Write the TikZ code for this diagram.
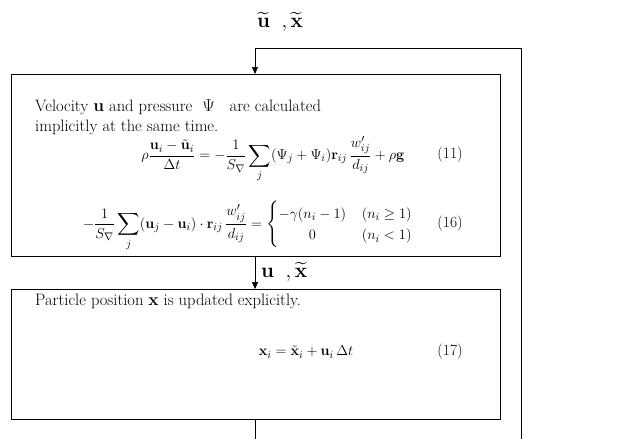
\documentclass[tikz,border=0pt]{standalone}
\usepackage{amsmath,amssymb,bm}
\usetikzlibrary{arrows.meta}
\tikzset{
  boxst/.style={draw, line width=0.9pt},
  flow/.style={draw, line width=0.6pt},
  arr/.style={flow, -{Triangle[length=7pt,width=6pt]}},
  txt/.style={inner sep=0pt, anchor=west, font=\fontsize{16.5}{18}\selectfont},
  eq/.style={inner sep=0pt, font=\fontsize{15.6}{18}\selectfont},
  lbl/.style={inner sep=0pt, font=\fontsize{21}{24}\selectfont}
}
\begin{document}
\begin{tikzpicture}[x=1pt,y=-1pt]
\useasboundingbox (0,0) rectangle (633,439);
% boxes
\node[boxst, minimum width=489pt, minimum height=182pt, inner sep=0pt, anchor=north west] (b1) at (11,74) {};
\node[boxst, minimum width=489pt, minimum height=130pt, inner sep=0pt, anchor=north west] (b2) at (11,289) {};
% feedback loop
\coordinate (tl) at (255,48);
\coordinate (tr) at (521,48);
\coordinate (br) at (521,439);
\coordinate (bb) at (255,439);
\draw[arr] (br) -- (tr) -- (tl) -- (b1.north -| tl);
\draw[arr] (b1.south -| tl) -- (b2.north -| tl);
\draw[flow] (b2.south -| tl) -- (bb);
% labels
\node[lbl] (l1) at (280,22) {$\widetilde{\mathbf{u}}\;\;,\widetilde{\mathbf{x}}$};
\node[lbl, anchor=west] (l2) at (261,272) {$\mathbf{u}\;\;,\widetilde{\mathbf{x}}$};
% box 1 text
\node[txt] (t1) at (35,107) {Velocity $\mathbf{u}$ and pressure \ $\Psi$ \ \ are calculated};
\node[txt] (t2) at (35,127) {implicitly at the same time.};
\node[eq] (e11) at (273,159) {$\displaystyle \rho\frac{\mathbf{u}_i-\tilde{\mathbf{u}}_i}{\Delta t}=-\frac{1}{S_\nabla}\sum_j(\Psi_j+\Psi_i)\mathbf{r}_{ij}\,\frac{w'_{ij}}{d_{ij}}+\rho\mathbf{g}$};
\node[eq] (n11) at (450,155) {(11)};
\node[eq] (e16) at (248,226) {$\displaystyle -\frac{1}{S_\nabla}\sum_j(\mathbf{u}_j-\mathbf{u}_i)\cdot\mathbf{r}_{ij}\,\frac{w'_{ij}}{d_{ij}}=\begin{cases}-\gamma(n_i-1) & (n_i\geq 1)\\ \hfil 0 & (n_i<1)\end{cases}$};
\node[eq] (n16) at (450,224) {(16)};
% box 2 text
\node[txt] (t3) at (35,301) {Particle position $\mathbf{x}$ is updated explicitly.};
\node[eq] (e17) at (306,352) {$\mathbf{x}_i=\tilde{\mathbf{x}}_i+\mathbf{u}_i\,\Delta t$};
\node[eq] (n17) at (450,352) {(17)};
\end{tikzpicture}
\end{document}
